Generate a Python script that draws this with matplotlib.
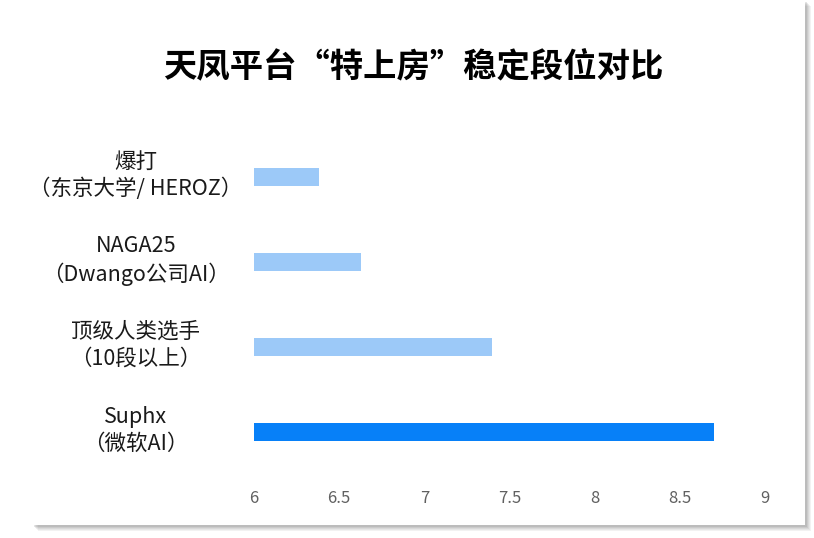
import matplotlib
matplotlib.use("Agg")
import matplotlib.pyplot as plt
from matplotlib.patches import Rectangle

plt.rcParams['font.family'] = ['Noto Sans CJK SC', 'DejaVu Sans']

categories = ["Suphx\n（微软AI）", "顶级人类选手\n（10段以上）", "NAGA25\n（Dwango公司AI）", "爆打\n（东京大学/ HEROZ）"]
values = [8.7, 7.4, 6.63, 6.38]
colors = ["#0780F8", "#9CC9F8", "#9CC9F8", "#9CC9F8"]
xticks = [6, 6.5, 7, 7.5, 8, 8.5, 9]
xtick_labels = ["6", "6.5", "7", "7.5", "8", "8.5", "9"]
base = 6
title = "天凤平台“特上房”稳定段位对比"

W, H = 814, 538
fig = plt.figure(figsize=(W / 100, H / 100), dpi=100)
fig.patch.set_facecolor("white")

# card with soft shadow
cx0, cx1, cy0, cy1 = 32, 805, 0, 525
for i, a in enumerate([0.10, 0.10, 0.12, 0.15, 0.2]):
    off = 6 - i
    fig.patches.append(Rectangle(((cx0 + off) / W, (H - cy1 - off) / H),
                                 (cx1 - cx0) / W, (cy1 - cy0) / H,
                                 transform=fig.transFigure, facecolor="#808080",
                                 edgecolor="none", alpha=a, zorder=0))
fig.patches.append(Rectangle((cx0 / W, (H - cy1) / H), (cx1 - cx0) / W, (cy1 - cy0 + 5) / H,
                             transform=fig.transFigure, facecolor="white",
                             edgecolor="none", zorder=1))

left, right = 254, 765
top, bottom = 134.5, 474.5
ax = fig.add_axes([left / W, (H - bottom) / H, (right - left) / W, (bottom - top) / H])
ax.set_zorder(2)
ax.patch.set_alpha(0)

y = list(range(len(categories)))
ax.barh(y, [v - base for v in values], left=base, height=0.21, color=colors)
ax.set_xlim(6, 9)
ax.set_ylim(-0.5, 3.5)
ax.set_xticks(xticks)
ax.set_xticklabels(xtick_labels, fontsize=12, color="#606060")
label_lift = 0.08  # labels sit slightly above bar centres
ax.set_yticks([v + label_lift for v in y])
ax.set_yticklabels(categories, fontsize=15.5, color="#1a1a1a", ha="center",
                   multialignment="center", linespacing=1.3)
ax.tick_params(axis="y", length=0, pad=85)
ax.tick_params(axis="x", length=0, pad=11)
for s in ax.spines.values():
    s.set_visible(False)

fig.text(413 / W, 1 - 68 / H, title, ha="center", va="center", fontsize=24,
         fontweight="bold", color="#000000", zorder=3)

fig.savefig("out.png", dpi=100, facecolor="white")
